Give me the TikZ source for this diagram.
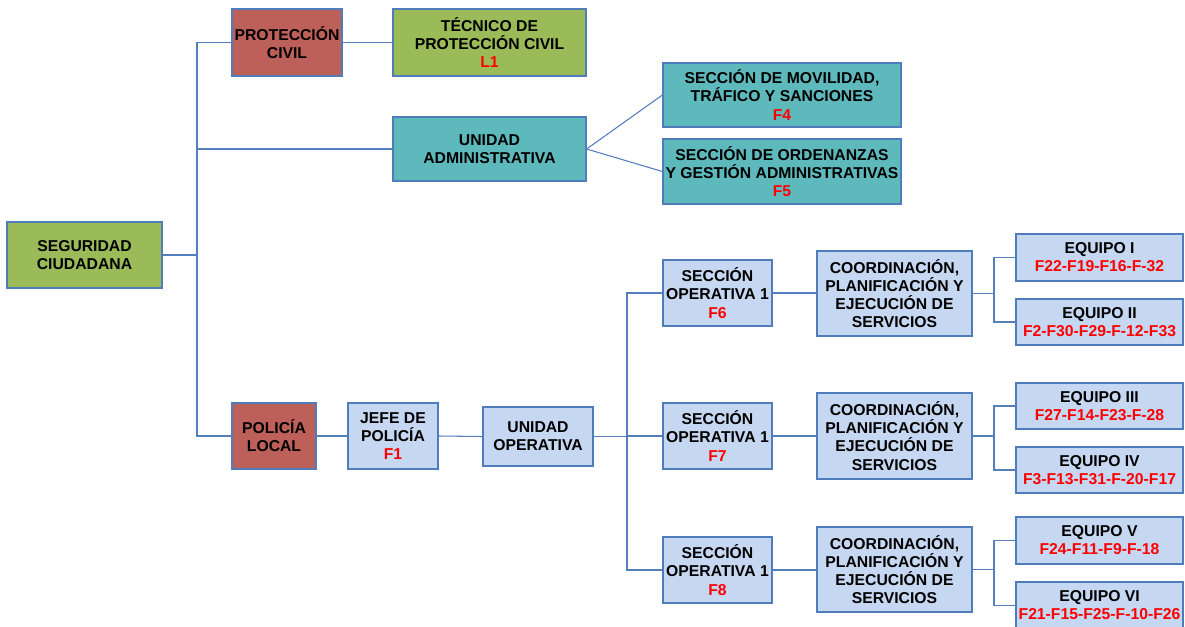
\documentclass[tikz,border=0pt]{standalone}
\usepackage{fontspec}
\setmainfont{Liberation Sans}
\definecolor{bordc}{RGB}{79,124,186}
\definecolor{linec}{RGB}{84,126,190}
\definecolor{greenc}{RGB}{155,187,89}
\definecolor{redbox}{RGB}{190,96,90}
\definecolor{tealc}{RGB}{94,185,189}
\definecolor{lbluec}{RGB}{198,215,241}
\definecolor{redtc}{RGB}{255,0,0}
\newcommand\redtxt[1]{\textcolor{redtc}{#1}}
\begin{document}
\begin{tikzpicture}[x=0.75pt,y=-0.75pt,
  box/.style={draw=bordc, line width=0.9pt, align=center, inner sep=0pt,
    font=\fontsize{11.8pt}{13.6pt}\selectfont\bfseries, text=black},
  sz/.style 2 args={minimum width=#1*0.75pt, minimum height=#2*0.75pt},
  gbox/.style={box, fill=greenc},
  rbox/.style={box, fill=redbox},
  tbox/.style={box, fill=tealc},
  bbox/.style={box, fill=lbluec},
  con/.style={draw=linec, line width=0.8pt}]
\useasboundingbox (0,0) rectangle (1185,626);
\fill[white] (0,0) rectangle (1185,626);

% top part
\node[gbox, sz={155}{66}] (seg) at (84.5,255) {SEGURIDAD\\CIUDADANA};
\node[rbox, sz={110}{67}] (pc) at (287,42.5) {PROTECCIÓN\\CIVIL};
\node[gbox, sz={193}{67}] (tec) at (489.5,42.5) {TÉCNICO DE\\PROTECCIÓN CIVIL\\\redtxt{L1}};
\node[tbox, sz={193}{64}] (ua) at (489.5,149) {UNIDAD\\ADMINISTRATIVA};
\node[tbox, sz={238}{64}] (mov) at (782,95) {SECCIÓN DE MOVILIDAD,\\TRÁFICO Y SANCIONES\\\redtxt{F4}};
\node[tbox, sz={238}{65}] (ord) at (782,171.5) {SECCIÓN DE ORDENANZAS\\Y GESTIÓN ADMINISTRATIVAS\\\redtxt{F5}};

% police
\node[rbox, sz={84}{66}] (pl) at (274,436) {POLICÍA\\LOCAL};
\node[bbox, sz={90}{66}] (jefe) at (393,436) {JEFE DE\\POLICÍA\\\redtxt{F1}};
\node[bbox, sz={110}{59}] (uo) at (538,436.5) {UNIDAD\\OPERATIVA};

% sections
\node[bbox, sz={109}{66}] (s1) at (717.5,293) {SECCIÓN\\OPERATIVA 1\\\redtxt{F6}};
\node[bbox, sz={109}{66}] (s2) at (717.5,436) {SECCIÓN\\OPERATIVA 1\\\redtxt{F7}};
\node[bbox, sz={109}{66}] (s3) at (717.5,570) {SECCIÓN\\OPERATIVA 1\\\redtxt{F8}};

\node[bbox, sz={155}{85}] (c1) at (894.5,293.5) {COORDINACIÓN,\\PLANIFICACIÓN Y\\EJECUCIÓN DE\\SERVICIOS};
\node[bbox, sz={155}{86}] (c2) at (894.5,436) {COORDINACIÓN,\\PLANIFICACIÓN Y\\EJECUCIÓN DE\\SERVICIOS};
\node[bbox, sz={155}{85}] (c3) at (894.5,569.5) {COORDINACIÓN,\\PLANIFICACIÓN Y\\EJECUCIÓN DE\\SERVICIOS};

\node[bbox, sz={167}{47}] (e1) at (1099.5,257.5) {EQUIPO I\\\redtxt{F22-F19-F16-F-32}};
\node[bbox, sz={167}{46}] (e2) at (1099.5,322) {EQUIPO II\\\redtxt{F2-F30-F29-F-12-F33}};
\node[bbox, sz={167}{46}] (e3) at (1099.5,406) {EQUIPO III\\\redtxt{F27-F14-F23-F-28}};
\node[bbox, sz={167}{46}] (e4) at (1099.5,470) {EQUIPO IV\\\redtxt{F3-F13-F31-F-20-F17}};
\node[bbox, sz={167}{47}] (e5) at (1099.5,540.5) {EQUIPO V\\\redtxt{F24-F11-F9-F-18}};
\node[bbox, sz={167}{47}] (e6) at (1099.5,605.5) {EQUIPO VI\\\redtxt{F21-F15-F25-F-10-F26}};

% junction coordinates
\coordinate (tb) at (197,255);
\coordinate (t2) at (627,436.5);
\coordinate (f1) at (994,293.5);
\coordinate (f2) at (994,436);
\coordinate (f3) at (994,569.5);

% connectors
\draw[con] (seg.east) -- (tb);
\draw[con] (pc.west) -| (tb) |- (pl.west);
\draw[con] (ua.west) -- (ua.west -| tb);
\draw[con] (pc.east) -- (tec.west);
\draw[con] (ua.east) -- (mov.west);
\draw[con] (ua.east) -- (ord.west);
\draw[con] (pl.east) -- (jefe.west);
\draw[con] (jefe.east) -- (uo.west);
\draw[con] (uo.east) -- (t2);
\draw[con] (s1.west) -| (t2) |- (s3.west);
\draw[con] (s2.west) -- (s2.west -| t2);
\draw[con] (s1.east) -- (s1.east -| c1.west);
\draw[con] (s2.east) -- (c2.west);
\draw[con] (s3.east) -- (s3.east -| c3.west);
\draw[con] (c1.east) -- (f1);
\draw[con] (c2.east) -- (f2);
\draw[con] (c3.east) -- (f3);
\draw[con] (e1.west) -| (f1) |- (e2.west);
\draw[con] (e3.west) -| (f2) |- (e4.west);
\draw[con] (e5.west) -| (f3) |- (e6.west);
\end{tikzpicture}
\end{document}
